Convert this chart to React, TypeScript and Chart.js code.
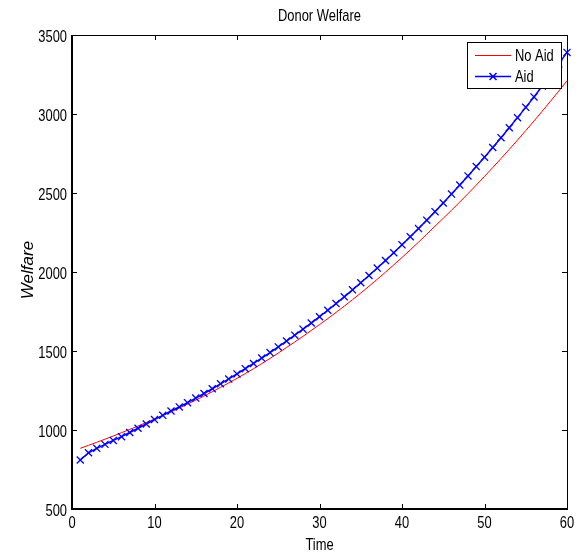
import React, { useEffect, useRef } from "react";
import { Chart, registerables } from "chart.js";

Chart.register(...registerables);

const chartTitle = "Donor Welfare";
const xAxisLabel = "Time";
const yAxisLabel = "Welfare";
const seriesNames = ["No Aid", "Aid"];

const time = [
  1, 2, 3, 4, 5, 6, 7, 8, 9, 10,
  11, 12, 13, 14, 15, 16, 17, 18, 19, 20,
  21, 22, 23, 24, 25, 26, 27, 28, 29, 30,
  31, 32, 33, 34, 35, 36, 37, 38, 39, 40,
  41, 42, 43, 44, 45, 46, 47, 48, 49, 50,
  51, 52, 53, 54, 55, 56, 57, 58, 59, 60,
];

const noAid = [
  884, 903, 922, 942, 962, 983, 1004, 1025, 1047, 1069,
  1092, 1115, 1139, 1164, 1189, 1215, 1242, 1270, 1298, 1327,
  1357, 1388, 1420, 1453, 1487, 1522, 1557, 1593, 1630, 1667,
  1705, 1744, 1784, 1825, 1867, 1910, 1954, 1999, 2045, 2092,
  2140, 2189, 2239, 2290, 2340, 2391, 2443, 2496, 2550, 2605,
  2661, 2718, 2776, 2835, 2895, 2956, 3018, 3081, 3145, 3210,
];

const aid = [
  810, 856, 884, 909, 934, 958, 984, 1011, 1038, 1066,
  1093, 1120, 1146, 1173, 1202, 1231, 1261, 1292, 1323, 1355,
  1388, 1421, 1455, 1490, 1526, 1563, 1600, 1638, 1677, 1717,
  1758, 1800, 1843, 1887, 1932, 1978, 2025, 2073, 2122, 2172,
  2223, 2275, 2328, 2382, 2437, 2493, 2550, 2608, 2667, 2727,
  2788, 2850, 2913, 2977, 3042, 3108, 3177, 3246, 3317, 3390,
];

const xTicks = [0, 10, 20, 30, 40, 50, 60];
const yTicks = [500, 1000, 1500, 2000, 2500, 3000, 3500];

const FONT = "'Liberation Sans', Arial, sans-serif";
const FONT_SIZE = 17;
const H_SCALE = 0.76;
const RED = "#ff0000";
const BLUE = "#0000ff";

function squeezedText(
  ctx: CanvasRenderingContext2D,
  text: string,
  x: number,
  y: number,
  align: CanvasTextAlign
) {
  ctx.save();
  ctx.translate(x, y);
  ctx.scale(H_SCALE, 1);
  ctx.fillStyle = "#000";
  ctx.font = `${FONT_SIZE}px ${FONT}`;
  ctx.textAlign = align;
  ctx.textBaseline = "alphabetic";
  ctx.fillText(text, 0, 0);
  ctx.restore();
}

export default function App() {
  const ref = useRef<HTMLCanvasElement>(null);

  useEffect(() => {
    const canvas = ref.current;
    if (!canvas) return;

    const decor = {
      id: "matlabDecor",
      afterDraw(chart: any) {
        const { ctx, chartArea: a, scales } = chart;
        const xs = scales.x;
        const ys = scales.y;
        const base = FONT_SIZE * 0.358;
        ctx.save();

        // inward ticks
        ctx.strokeStyle = "#000";
        ctx.lineWidth = 1;
        ctx.beginPath();
        for (const t of xs.ticks) {
          const px = Math.round(xs.getPixelForValue(t.value)) + 0.5;
          ctx.moveTo(px, a.bottom);
          ctx.lineTo(px, a.bottom - 5);
          ctx.moveTo(px, a.top);
          ctx.lineTo(px, a.top + 5);
        }
        for (const t of ys.ticks) {
          const py = Math.round(ys.getPixelForValue(t.value)) + 0.5;
          ctx.moveTo(a.left, py);
          ctx.lineTo(a.left + 5, py);
          ctx.moveTo(a.right, py);
          ctx.lineTo(a.right - 5, py);
        }
        ctx.stroke();

        // box
        ctx.lineWidth = 1;
        ctx.beginPath();
        ctx.moveTo(a.left, a.top + 0.5);
        ctx.lineTo(a.right + 0.5, a.top + 0.5);
        ctx.lineTo(a.right + 0.5, a.bottom);
        ctx.stroke();
        ctx.lineWidth = 2;
        ctx.beginPath();
        ctx.moveTo(a.left, a.top);
        ctx.lineTo(a.left, a.bottom);
        ctx.lineTo(a.right + 1, a.bottom);
        ctx.stroke();

        // tick labels
        for (const t of xs.ticks) {
          squeezedText(ctx, String(t.value), xs.getPixelForValue(t.value), 521.5 + base, "center");
        }
        for (const t of ys.ticks) {
          squeezedText(ctx, String(t.value), a.left - 5, ys.getPixelForValue(t.value) + 1 + base, "right");
        }

        // titles
        const cx = (a.left + a.right) / 2;
        squeezedText(ctx, chartTitle, cx, 15 + base, "center");
        squeezedText(ctx, xAxisLabel, cx, 543.5 + base, "center");

        ctx.save();
        ctx.translate(33, (a.top + a.bottom) / 2 - 2);
        ctx.rotate(-Math.PI / 2);
        ctx.fillStyle = "#000";
        ctx.font = `italic ${FONT_SIZE}px ${FONT}`;
        ctx.textAlign = "center";
        ctx.textBaseline = "alphabetic";
        ctx.fillText(yAxisLabel, 0, 0);
        ctx.restore();

        // legend
        const lx = 467, ly = 42, lw = 94, lh = 46;
        ctx.fillStyle = "#fff";
        ctx.fillRect(lx, ly, lw, lh);
        ctx.lineWidth = 1;
        ctx.strokeStyle = "#000";
        ctx.strokeRect(lx + 0.5, ly + 0.5, lw, lh);
        const rows = [
          { name: seriesNames[0], color: RED, marker: false, width: 1, y: 55 },
          { name: seriesNames[1], color: BLUE, marker: true, width: 1.5, y: 76 },
        ];
        for (const r of rows) {
          ctx.save();
          ctx.strokeStyle = r.color;
          ctx.lineWidth = r.width;
          ctx.beginPath();
          ctx.moveTo(475, r.y + 0.5);
          ctx.lineTo(511, r.y + 0.5);
          if (r.marker) {
            const mx = 493, d = 3.5, my = r.y + 0.5;
            ctx.moveTo(mx - d, my - d);
            ctx.lineTo(mx + d, my + d);
            ctx.moveTo(mx - d, my + d);
            ctx.lineTo(mx + d, my - d);
          }
          ctx.stroke();
          ctx.restore();
          squeezedText(ctx, r.name, 515, r.y + base, "left");
        }
        ctx.restore();
      },
    };

    const chart = new Chart(canvas, {
      type: "line",
      data: {
        datasets: [
          {
            label: seriesNames[0],
            data: time.map((t, i) => ({ x: t, y: noAid[i] })),
            borderColor: RED,
            backgroundColor: RED,
            borderWidth: 1,
            pointRadius: 0,
            fill: false,
            tension: 0,
            order: 2,
          },
          {
            label: seriesNames[1],
            data: time.map((t, i) => ({ x: t, y: aid[i] })),
            borderColor: BLUE,
            backgroundColor: BLUE,
            borderWidth: 1.5,
            pointStyle: "crossRot",
            pointRadius: 5,
            pointBorderWidth: 1.3,
            pointBorderColor: BLUE,
            pointBackgroundColor: BLUE,
            fill: false,
            tension: 0,
            clip: false,
            order: 1,
          },
        ],
      },
      options: {
        responsive: false,
        animation: false,
        devicePixelRatio: 1,
        layout: { padding: { left: 0, right: 17, top: 35, bottom: 0 } },
        plugins: {
          legend: { display: false },
          title: { display: false },
          tooltip: { enabled: false },
        },
        scales: {
          x: {
            type: "linear",
            min: 0,
            max: 60,
            afterBuildTicks: (s: any) => {
              s.ticks = xTicks.map((v) => ({ value: v }));
            },
            afterFit: (s: any) => {
              s.height = 48;
            },
            grid: { display: false, drawTicks: false },
            border: { display: false },
            ticks: { display: false },
          },
          y: {
            type: "linear",
            min: 500,
            max: 3500,
            afterBuildTicks: (s: any) => {
              s.ticks = yTicks.map((v) => ({ value: v }));
            },
            afterFit: (s: any) => {
              s.width = 72;
            },
            grid: { display: false, drawTicks: false },
            border: { display: false },
            ticks: { display: false },
          },
        },
      },
      plugins: [decor],
    });

    return () => chart.destroy();
  }, []);

  return (
    <div style={{ position: "fixed", left: 0, top: 0, background: "#fff" }}>
      <canvas ref={ref} width={584} height={557} style={{ display: "block" }} />
    </div>
  );
}
